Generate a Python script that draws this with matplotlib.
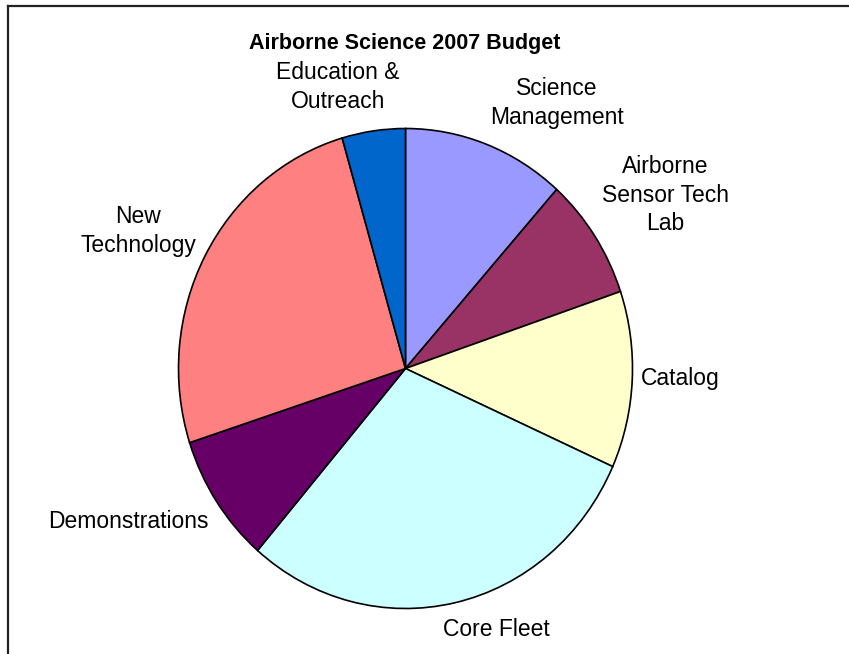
import matplotlib
matplotlib.use("Agg")
import matplotlib.pyplot as plt
from matplotlib.lines import Line2D

categories = ["Science\nManagement", "Airborne\nSensor Tech\nLab", "Catalog",
              "Core Fleet", "Demonstrations", "New\nTechnology",
              "Education &\nOutreach"]
shares = [11.6, 8.2, 11.9, 29.6, 8.7, 25.5, 4.5]
colors = ["#9999FF", "#993366", "#FFFFCC", "#CCFFFF", "#660066", "#FF8080", "#0066CC"]

# label centres in pixels (x from left, y from top)
label_pos = [(557, 103), (665, 195), (680, 379), (496, 630), (128, 522),
             (138, 231), (338, 87)]

W, H = 849, 654
fig = plt.figure(figsize=(W / 100, H / 100), dpi=100)
ax = fig.add_axes([0, 0, 1, 1])

ax.pie(shares, colors=colors, startangle=90, counterclock=False,
       wedgeprops=dict(edgecolor="black", linewidth=1.2))

# pie centre and radii in pixels (slightly taller than wide, as in the picture)
cx, cy, rx, ry = 405.5, 368.5, 227, 240
ax.set_aspect("auto")
ax.set_xlim(-cx / rx, (W - cx) / rx)
ax.set_ylim(-(H - cy) / ry, cy / ry)
ax.axis("off")

font = ["Liberation Sans", "DejaVu Sans"]
for name, (px, py) in zip(categories, label_pos):
    fig.text(px / W, 1 - py / H, name, ha="center", va="center",
             fontsize=16.5, family=font, linespacing=1.3)

fig.text(405 / W, 1 - 44 / H, "Airborne Science 2007 Budget", ha="center",
         va="center", fontsize=15.5, fontweight="bold", family=font)

# chart frame (left and top edges visible)
fig.add_artist(Line2D([8 / W, 8 / W], [0, 1 - 6 / H], color="#222222", lw=1.6,
                      transform=fig.transFigure))
fig.add_artist(Line2D([8 / W, 1], [1 - 6 / H, 1 - 6 / H], color="#222222", lw=1.6,
                      transform=fig.transFigure))

fig.savefig("out.png", dpi=100)
